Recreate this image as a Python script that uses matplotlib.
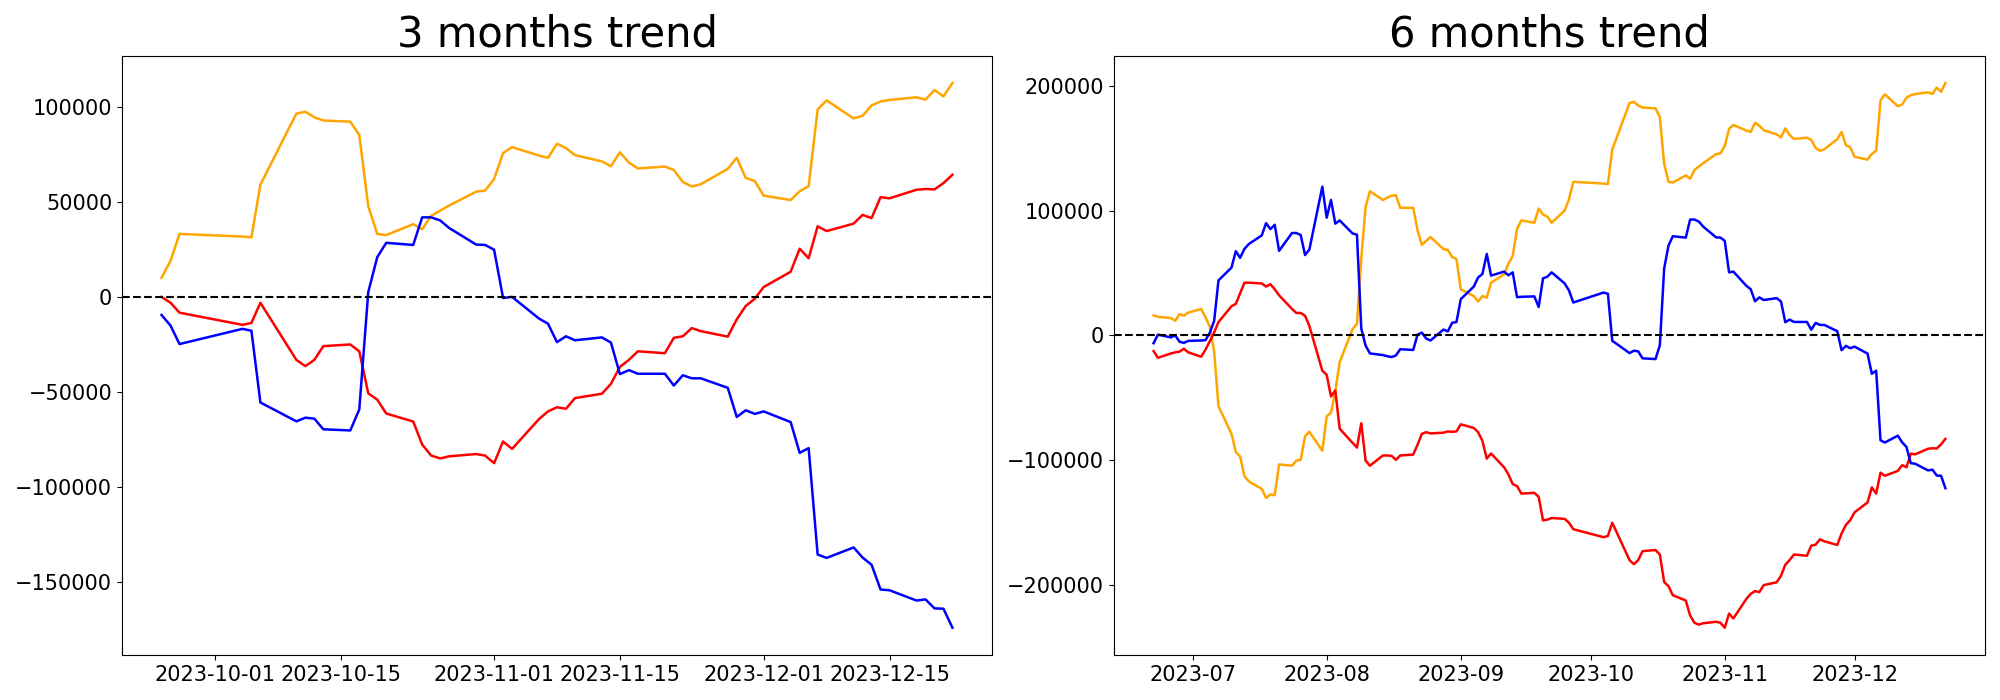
import matplotlib
matplotlib.use("Agg")
import matplotlib.pyplot as plt
import pandas as pd

# ---------------- 3 months data ----------------
dates_3m = ["2023-09-25","2023-09-26","2023-09-27","2023-10-04","2023-10-05","2023-10-06",
            "2023-10-10","2023-10-11","2023-10-12","2023-10-13","2023-10-16","2023-10-17",
            "2023-10-18","2023-10-19","2023-10-20","2023-10-23","2023-10-24","2023-10-25",
            "2023-10-26","2023-10-27","2023-10-30","2023-10-31","2023-11-01","2023-11-02",
            "2023-11-03","2023-11-06","2023-11-07","2023-11-08","2023-11-09","2023-11-10",
            "2023-11-13","2023-11-14","2023-11-15","2023-11-16","2023-11-17","2023-11-20",
            "2023-11-21","2023-11-22","2023-11-23","2023-11-24","2023-11-27","2023-11-28",
            "2023-11-29","2023-11-30","2023-12-01","2023-12-04","2023-12-05","2023-12-06",
            "2023-12-07","2023-12-08","2023-12-11","2023-12-12","2023-12-13","2023-12-14",
            "2023-12-15","2023-12-18","2023-12-19","2023-12-20","2023-12-21","2023-12-22"]

orange_3m = [10000,19000,33100,31700,31300,59000,96300,97300,94400,92700,92100,85100,47600,33100,32500,
             38200,35600,42600,45300,48000,55300,55900,61900,75600,78700,74300,73100,80500,78200,74500,
             71200,68700,76000,70600,67500,68500,66700,60400,58000,59200,67300,73100,62500,60900,53200,
             50900,55500,58200,98500,103300,93800,95200,100600,102700,103500,104900,103700,108700,105400,112400]

red_3m = [0,-3100,-8300,-14700,-13700,-3100,-33100,-36400,-33100,-25900,-25000,-28600,-50700,-54000,-61300,
          -65500,-77600,-83400,-84900,-83800,-82600,-83400,-87400,-76000,-79900,-64200,-60200,-58000,-58800,-53200,
          -50900,-45700,-36800,-33100,-28600,-29600,-21500,-20700,-16400,-18000,-20900,-11800,-4800,-1000,5200,
          13200,25300,20300,37100,34600,38500,43100,41400,52400,51800,56300,56700,56500,59800,64200]

blue_3m = [-9500,-15100,-24800,-16800,-17800,-55500,-65400,-63500,-64000,-69600,-70200,-59200,2500,20900,28400,
           27300,41800,41800,40200,36200,27500,27300,24800,-600,0,-11400,-14100,-23800,-20700,-22800,
           -21300,-24000,-40600,-38500,-40400,-40400,-46600,-41200,-42800,-42800,-47800,-63100,-59600,-61500,-60200,
           -65800,-82000,-79500,-135400,-137200,-131700,-137000,-140800,-153800,-154200,-159600,-159000,-163700,-163900,-173900]

# ---------------- 6 months data ----------------
dates_6m_early = ["2023-06-22","2023-06-23","2023-06-26","2023-06-27","2023-06-28","2023-06-29","2023-06-30",
                  "2023-07-03","2023-07-04","2023-07-05","2023-07-06","2023-07-07",
                  "2023-07-10","2023-07-11","2023-07-12","2023-07-13","2023-07-14",
                  "2023-07-17","2023-07-18","2023-07-19","2023-07-20","2023-07-21",
                  "2023-07-24","2023-07-25","2023-07-26","2023-07-27","2023-07-28",
                  "2023-07-31","2023-08-01","2023-08-02","2023-08-03","2023-08-04",
                  "2023-08-07","2023-08-08","2023-08-09","2023-08-10","2023-08-11",
                  "2023-08-14","2023-08-15","2023-08-16","2023-08-17","2023-08-18",
                  "2023-08-21","2023-08-22","2023-08-23","2023-08-24","2023-08-25",
                  "2023-08-28","2023-08-29","2023-08-30","2023-08-31","2023-09-01",
                  "2023-09-04","2023-09-05","2023-09-06","2023-09-07","2023-09-08",
                  "2023-09-11","2023-09-12","2023-09-13","2023-09-14","2023-09-15",
                  "2023-09-18","2023-09-19","2023-09-20","2023-09-21","2023-09-22"]
dates_6m = dates_6m_early + dates_3m

orange_6m = [16100,14900,13900,11700,17100,15800,18300,
             21200,14500,7000,-12900,-56800,
             -79000,-93500,-97300,-113100,-117200,
             -123200,-130500,-127700,-128300,-103600,
             -104600,-100500,-99900,-80900,-77400,
             -92600,-65100,-61900,-44900,-21500,
             5100,9200,62300,103300,115700,
             108700,110600,112200,112500,102400,
             102400,84400,72700,75800,79000,
             69200,68600,62900,61300,37000,
             31600,27200,31600,30300,42300,
             49000,57500,63800,85600,92300,
             90400,101800,97000,95400,90400,
             100200,109200,123300,121900,121500,149200,186500,187500,184600,182900,182300,175300,
             137800,123300,122700,128400,125800,132800,135500,138200,145500,146100,152100,165800,
             168900,164500,163300,170700,168400,164700,161400,158900,166200,160800,157700,158700,
             156900,150600,148200,149400,157500,163300,152700,151100,143400,141100,145700,148400,
             188700,193500,184000,185400,190800,192900,193700,195100,193900,198900,195600,202600]

red_6m = [-12600,-18000,-14500,-13600,-13000,-10700,-13600,
          -17100,-11400,-4700,2500,10700,
          23400,25300,33800,42300,42300,
          41700,39200,41100,37000,32200,
          21200,18000,18000,15800,7600,
          -28400,-31600,-49000,-44200,-74900,
          -86300,-90100,-70500,-100500,-104600,
          -96400,-96400,-96700,-99900,-96400,
          -95700,-87800,-79000,-77700,-78700,
          -78100,-77100,-77400,-77100,-71400,
          -74300,-77700,-84700,-98900,-94800,
          -105900,-111500,-119400,-121000,-127000,
          -126400,-129600,-148500,-147900,-146600,
          -147300,-150400,-155600,-162000,-161000,-150400,-180400,-183700,-180400,-173200,-172300,-175900,
          -198000,-201300,-208600,-212800,-224900,-230700,-232200,-231100,-229900,-230700,-234700,-223300,
          -227200,-211500,-207500,-205300,-206100,-200500,-198200,-193000,-184100,-180400,-175900,-176900,
          -168800,-168000,-163700,-165300,-168200,-159100,-152100,-148300,-142100,-134100,-122000,-127000,
          -110200,-112700,-108800,-104200,-105900,-94900,-95500,-91000,-90600,-90800,-87500,-83100]

blue_6m = [-6300,600,-1600,0,-5100,-6000,-4400,
           -4100,-3800,2200,11700,44200,
           54400,67600,62300,69500,73300,
           80300,90100,85300,88800,67900,
           82200,82200,80600,64500,68900,
           119400,94500,108700,89700,92300,
           81800,80900,5400,-8200,-14500,
           -15800,-16700,-17400,-16100,-11100,
           -11700,600,2200,-2500,-4100,
           4700,3200,10100,10700,29100,
           39200,46500,49300,65400,48000,
           51200,48300,50600,30700,31000,
           31300,22800,45800,47100,50600,
           41700,36100,26400,34400,33400,-4300,-14200,-12300,-12800,-18400,-19000,-8000,
           53700,72100,79600,78500,93000,93000,91400,87400,78700,78500,76000,50600,
           51200,39800,37100,27400,30500,28400,29900,27200,10600,12700,10800,10800,
           4600,10000,8400,8400,3400,-11900,-8400,-10300,-9000,-14600,-30800,-28300,
           -84200,-86000,-80500,-85800,-89600,-102600,-103000,-108400,-107800,-112500,-112700,-122700]

titles = ["3 months trend", "6 months trend"]

fig = plt.figure(figsize=(20, 7), dpi=100)
ax1 = fig.add_axes([0.061, 0.0643, 0.435, 0.856])
ax2 = fig.add_axes([0.557, 0.0643, 0.4355, 0.856])

panels = [
    (ax1, dates_3m, orange_3m, red_3m, blue_3m, titles[0]),
    (ax2, dates_6m, orange_6m, red_6m, blue_6m, titles[1]),
]
for ax, d, o, r, b, t in panels:
    x = pd.to_datetime(d)
    ax.plot(x, o, color="orange", linewidth=1.8)
    ax.plot(x, r, color="red", linewidth=1.8)
    ax.plot(x, b, color="blue", linewidth=1.8)
    ax.axhline(0, color="black", linestyle="--", linewidth=1.5)
    ax.set_title(t, fontsize=30)
    ax.tick_params(axis="both", labelsize=15)

fig.savefig("out.png", dpi=100)
